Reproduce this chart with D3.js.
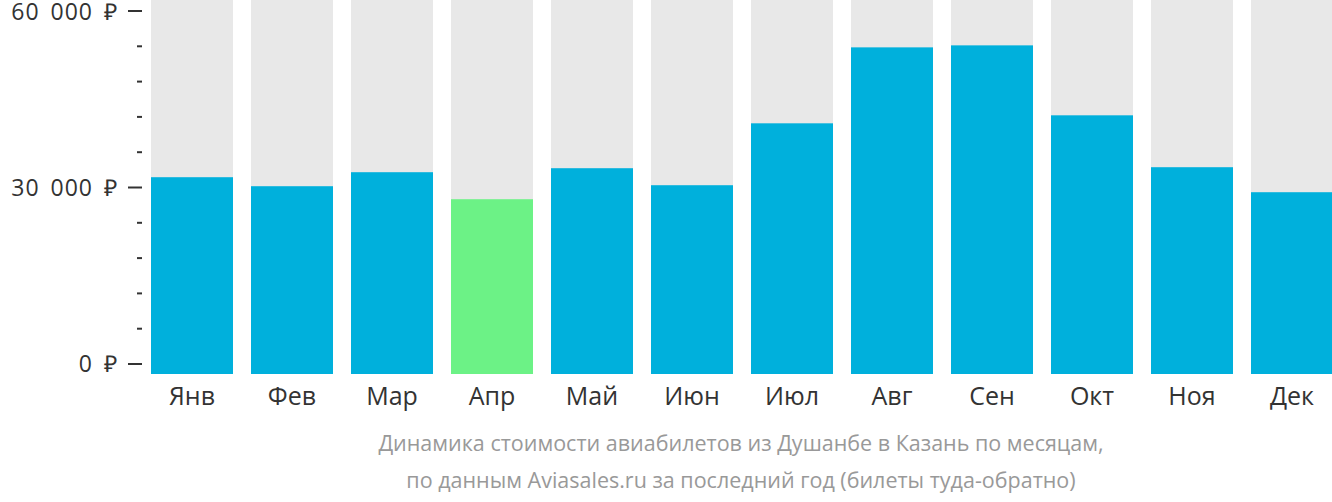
<!DOCTYPE html>
<html><head><meta charset="utf-8">
<script src="https://cdn.jsdelivr.net/npm/d3@7"></script>
<style>body{margin:0;background:#fff;font-family:"Open Sans",sans-serif}</style>
</head><body><svg id="c" width="1332" height="502"></svg>
<script>
const months = ['Янв','Фев','Мар','Апр','Май','Июн','Июл','Авг','Сен','Окт','Ноя','Дек'];
const prices = [31750,30220,32600,28010,33280,30390,40910,53820,54160,42270,33450,29200];
const cheapest = 'Апр';
const tickLabels = ['0 ₽','30 000 ₽','60 000 ₽'];

const svg = d3.select('#c');
const x = d3.scaleBand().domain(months).range([142,1342]).paddingInner(0.18).paddingOuter(0.09);
const y = d3.scaleLinear().domain([0,60000]).range([364,11]);
const base = 374;

svg.append('g').selectAll('rect').data(months).join('rect')
  .attr('x',d=>x(d)).attr('width',x.bandwidth()).attr('y',0).attr('height',base).attr('fill','#e8e8e8');
svg.append('g').selectAll('rect').data(prices).join('rect')
  .attr('x',(d,i)=>x(months[i])).attr('width',x.bandwidth())
  .attr('y',d=>y(d)).attr('height',d=>base-y(d))
  .attr('fill',(d,i)=>months[i]===cheapest?'#6cf286':'#00b0dc');

// y ticks
const ty = svg.append('g');
d3.range(0,60001,6000).forEach(v=>{
  const major = v%30000===0;
  ty.append('line').attr('x1',major?128:137).attr('x2',142).attr('y1',y(v)).attr('y2',y(v))
    .attr('stroke','#333').attr('stroke-width',2);
});
[0,30000,60000].forEach((v,i)=>{
  ty.append('text').attr('x',118).attr('y',Math.max(y(v),12)).attr('dy','0.35em').attr('text-anchor','end')
    .attr('font-size',23).attr('letter-spacing',1).attr('word-spacing',4).attr('fill','#333').text(tickLabels[i]);
});

svg.append('g').selectAll('text').data(months).join('text')
  .attr('x',d=>x(d)+x.bandwidth()/2).attr('y',405).attr('text-anchor','middle')
  .attr('font-size',25).attr('fill','#333').text(d=>d);

const cap = ['Динамика стоимости авиабилетов из Душанбе в Казань по месяцам,',
             'по данным Aviasales.ru за последний год (билеты туда-обратно)'];
svg.append('g').selectAll('text').data(cap).join('text')
  .attr('x',741).attr('y',(d,i)=>451+i*37).attr('text-anchor','middle')
  .attr('font-size',21.5).attr('fill','#999').text(d=>d);
</script></body></html>
